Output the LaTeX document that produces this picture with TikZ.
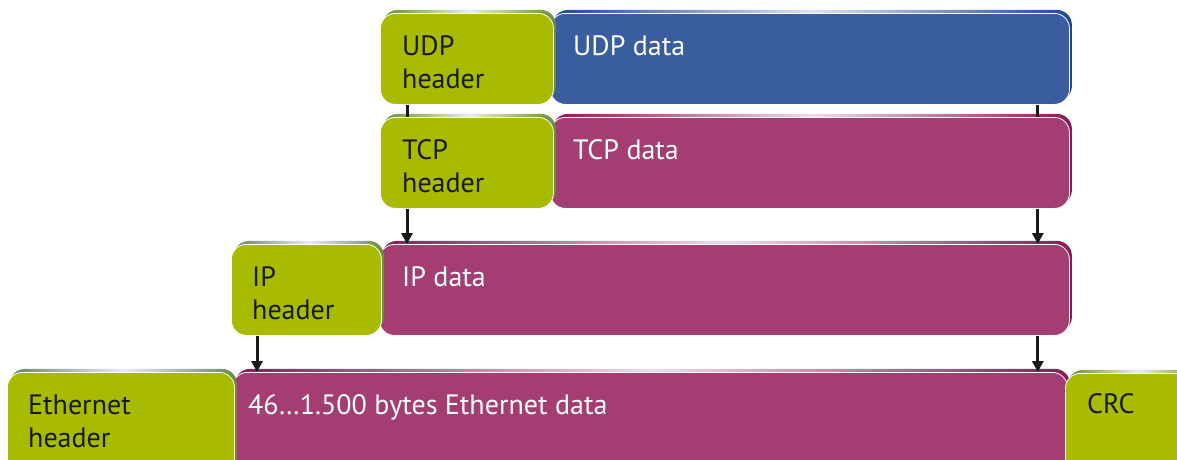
\documentclass[tikz,border=0pt]{standalone}
\usepackage{fontspec}
\setmainfont{PT Sans}
\usetikzlibrary{arrows.meta,calc}
\definecolor{hgreen}{RGB}{168,187,0}
\definecolor{hgreenrim}{RGB}{105,140,60}
\definecolor{dblue}{RGB}{58,93,160}
\definecolor{dbluerim}{RGB}{30,70,150}
\definecolor{dmag}{RGB}{164,62,114}
\definecolor{dmagrim}{RGB}{135,25,85}
\tikzset{
  box/.style={rounded corners=15pt, draw=white, line width=0.8pt, inner sep=0pt, anchor=north west},
  rimbox/.style 2 args={box, fill=#1,
     preaction={shade, left color=#2, right color=#2, middle color=white!85!#2, draw=none,
                transform canvas={xshift=2.5pt,yshift=3.5pt}}},
  greenbox/.style={rimbox={hgreen}{hgreenrim}},
  bluebox/.style={rimbox={dblue}{dbluerim}},
  magbox/.style={rimbox={dmag}{dmagrim}},
  dark/.style={anchor=base west, inner sep=0pt, text=black!90, font=\fontsize{28}{33}\selectfont},
  light/.style={dark, text=white},
  link/.style={line width=3pt, black!90},
  arr/.style={link, -{Triangle[length=11pt,width=11pt]}},
}
\begin{document}
\begin{tikzpicture}[x=1pt,y=-1pt]
\useasboundingbox (0,0) rectangle (1177,459);
\clip (0,0) rectangle (1177,459);
% UDP row
\node[bluebox, minimum width=519pt, minimum height=91pt] (udpd) at (550,13) {};
\node[greenbox, minimum width=173pt, minimum height=91pt] (udph) at (380,13) {};
% TCP row
\node[magbox, minimum width=519pt, minimum height=91pt] (tcpd) at (550,117) {};
\node[greenbox, minimum width=173pt, minimum height=91pt] (tcph) at (380,117) {};
% IP row
\node[magbox, minimum width=690pt, minimum height=91pt] (ipd) at (379,244) {};
\node[greenbox, minimum width=150pt, minimum height=91pt] (iph) at (231,244) {};
% Ethernet row
\node[magbox, minimum width=835pt, minimum height=110pt] (ethd) at (232,372) {};
\node[greenbox, minimum width=227pt, minimum height=110pt] (ethh) at (7,372) {};
\node[greenbox, minimum width=140pt, minimum height=110pt] (crc) at (1065,373) {};
% texts
\node[dark] (t1) at (402,55) {UDP};
\node[dark] (t2) at (402,88) {header};
\node[light] (t3) at (573,55) {UDP data};
\node[dark] (t4) at (402,159) {TCP};
\node[dark] (t5) at (402,192) {header};
\node[light] (t6) at (573,159) {TCP data};
\node[dark] (t7) at (252,286) {IP};
\node[dark] (t8) at (252,319) {header};
\node[light] (t9) at (402,286) {IP data};
\node[dark] (t10) at (28,414) {Ethernet};
\node[dark] (t11) at (28,447) {header};
\node[light] (t12) at (248,414) {46…1.500 bytes Ethernet data};
\node[dark] (t13) at (1087,413) {CRC};
% connectors
\draw[link] ([xshift=27pt]udph.south west) -- ([xshift=27pt]udph.south west |- tcph.north);
\draw[link] ([xshift=-32pt]udpd.south east) -- ([xshift=-32pt]udpd.south east |- tcpd.north);
\draw[arr] ([xshift=27pt]tcph.south west) -- ([xshift=27pt]tcph.south west |- ipd.north);
\draw[arr] ([xshift=-32pt]tcpd.south east) -- ([xshift=-32pt]tcpd.south east |- ipd.north);
\draw[arr] ([xshift=26pt]iph.south west) -- ([xshift=26pt]iph.south west |- ethd.north);
\draw[arr] ([xshift=-32pt]ipd.south east) -- ([xshift=-32pt]ipd.south east |- ethd.north);
\end{tikzpicture}
\end{document}
